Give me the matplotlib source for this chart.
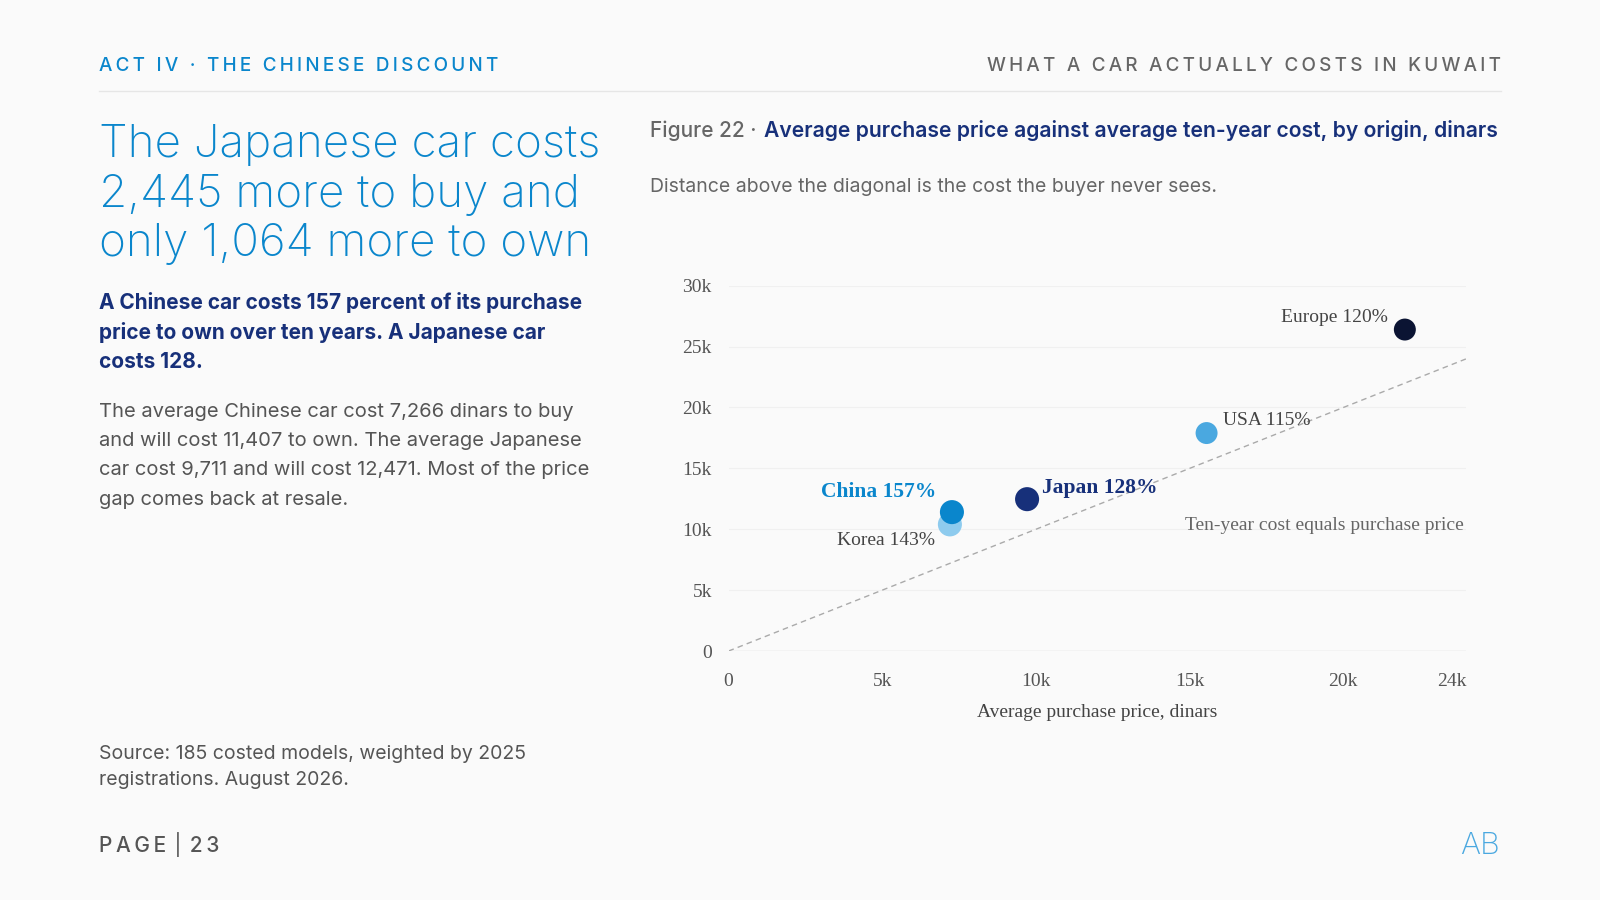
import matplotlib.pyplot as plt
import matplotlib.ticker as ticker

# data (dinars)
origins = ["China", "Korea", "Japan", "USA", "Europe"]
purchase = [7266, 7200, 9711, 15550, 22000]
ten_year = [11407, 10400, 12471, 17900, 26400]
labels = ["China 157%", "Korea 143%", "Japan 128%", "USA 115%", "Europe 120%"]
colors = ["#0a86cc", "#8ecbee", "#17307a", "#4aa8e0", "#0b1433"]

W, H = 1568, 882
fig = plt.figure(figsize=(16, 9), dpi=100)
fig.patch.set_facecolor("#fafafa")
sans = ["Inter", "DejaVu Sans"]
serif = ["Liberation Serif", "DejaVu Serif"]

def fx(x): return x / W
def fy(y): return 1 - y / H

def tracked(s):
    # crude letter spacing with thin spaces
    return "\u2009".join(s)

fig.text(fx(97), fy(65), tracked("ACT IV · THE CHINESE DISCOUNT"), color="#0a86cc", fontsize=13.6,
         family=sans, va="center", fontweight="medium")
fig.text(fx(1471), fy(65), tracked("WHAT A CAR ACTUALLY COSTS IN KUWAIT"), color="#666666", fontsize=13.6,
         family=sans, va="center", ha="right", fontweight="medium")
fig.add_artist(plt.Line2D([fx(97), fx(1471)], [fy(89), fy(89)], color="#e6e6e6", lw=1))

fig.text(fx(97), fy(122), "The Japanese car costs\n2,445 more to buy and\nonly 1,064 more to own",
         color="#0a86cc", fontsize=33, family=sans, va="top", linespacing=1.22, fontweight="light")
fig.text(fx(97), fy(286), "A Chinese car costs 157 percent of its purchase\nprice to own over ten years. A Japanese car\ncosts 128.",
         color="#17307a", fontsize=15, family=sans, va="top", fontweight="bold", linespacing=1.55)
fig.text(fx(97), fy(395), "The average Chinese car cost 7,266 dinars to buy\nand will cost 11,407 to own. The average Japanese\ncar cost 9,711 and will cost 12,471. Most of the price\ngap comes back at resale.",
         color="#555555", fontsize=14.5, family=sans, va="top", linespacing=1.8)
fig.text(fx(97), fy(730), "Source: 185 costed models, weighted by 2025\nregistrations. August 2026.",
         color="#555555", fontsize=14, family=sans, va="top", linespacing=1.6)
fig.text(fx(97), fy(828), tracked("PAGE") + " │ " + tracked("23"), color="#555555", fontsize=15,
         family=sans, va="center", fontweight="medium")
fig.text(fx(1450), fy(829), "AB", color="#4aa8e0", fontsize=22, family=sans, va="center",
         ha="center", fontweight="light")

fig.text(fx(637), fy(128), "Figure 22 · ", color="#666666", fontsize=15, family=sans, va="center",
         fontweight="medium")
fig.text(fx(749), fy(128), "Average purchase price against average ten-year cost, by origin, dinars",
         color="#17307a", fontsize=15.2, family=sans, va="center", fontweight="semibold")
fig.text(fx(637), fy(183), "Distance above the diagonal is the cost the buyer never sees.",
         color="#666666", fontsize=14, family=sans, va="center")

ax = fig.add_axes([fx(714), fy(638), fx(1437) - fx(714), fy(280) - fy(638)])
ax.set_facecolor("#fafafa")
ax.set_xlim(0, 24000)
ax.set_ylim(0, 30000)
for s in ax.spines.values():
    s.set_visible(False)
ax.axhline(0, color="#dddddd", lw=1)
ax.yaxis.grid(True, color="#f0f0f0", lw=0.8)
ax.set_axisbelow(True)
ax.tick_params(length=0, labelsize=14, colors="#555555")
ax.tick_params(axis="x", pad=16)
ax.tick_params(axis="y", pad=12)
ax.set_xticks([0, 5000, 10000, 15000, 20000, 24000])
ax.set_yticks(range(0, 30001, 5000))
fmt = ticker.FuncFormatter(lambda v, p: "0" if v == 0 else f"{int(v / 1000)}k")
ax.xaxis.set_major_formatter(fmt)
ax.yaxis.set_major_formatter(fmt)
for t in ax.get_xticklabels() + ax.get_yticklabels():
    t.set_family(serif)
xl = ax.get_xticklabels()
xl[-1].set_ha("right")
ax.set_xlabel("Average purchase price, dinars", fontsize=14, color="#444444", family=serif, labelpad=10)

ax.plot([0, 24000], [0, 24000], ls=(0, (4, 3)), color="#aaaaaa", lw=1)
ax.text(23900, 9600, "Ten-year cost equals purchase price", ha="right", va="bottom",
        fontsize=14, color="#666666", family=serif)

order = [1, 0, 2, 3, 4]
sizes = [300, 300, 300, 250, 250]
for i in order:
    ax.scatter(purchase[i], ten_year[i], s=sizes[i], color=colors[i], zorder=3, edgecolor="none")

offs = {"China": (-500, 800, "right", "bottom", "#0a86cc", "bold", 15.5),
        "Korea": (-500, -600, "right", "top", "#444444", "normal", 14),
        "Japan": (500, 100, "left", "bottom", "#17307a", "bold", 15.5),
        "USA": (550, 1000, "left", "center", "#444444", "normal", 14),
        "Europe": (-550, 300, "right", "bottom", "#444444", "normal", 14)}
for o, x, y, lab in zip(origins, purchase, ten_year, labels):
    dx, dy, ha, va, c, fw, fs = offs[o]
    ax.text(x + dx, y + dy, lab, ha=ha, va=va, color=c, fontweight=fw, fontsize=fs, family=serif)

fig.savefig("out.png", dpi=100, facecolor=fig.get_facecolor())
